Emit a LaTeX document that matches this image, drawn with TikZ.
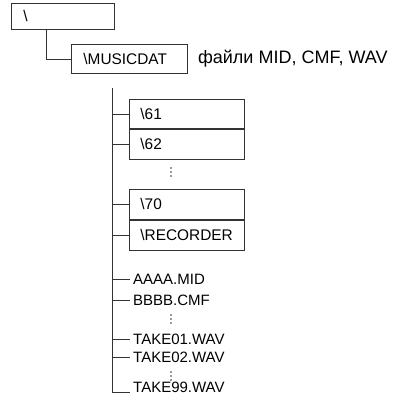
\documentclass[tikz,border=0pt]{standalone}
\usepackage{fontspec}
\setmainfont{Liberation Sans}
\usetikzlibrary{positioning}

\begin{document}
\begin{tikzpicture}[x=1pt, y=-1pt,
    dir/.style={draw=black!80, line width=0.9pt, anchor=north west, align=left,
                inner xsep=11pt, inner ysep=0pt, text width=93pt, minimum height=30pt,
                font=\fontsize{15.4}{17}\selectfont},
    file/.style={anchor=west, inner sep=3pt, font=\fontsize{15}{17}\selectfont},
    note/.style={anchor=west, inner sep=0pt, font=\fontsize{18}{20}\selectfont},
    ln/.style={draw=black!80, line width=0.9pt}
  ]
  \useasboundingbox (0,0) rectangle (399,402);

  \node[dir, inner xsep=12pt, text width=79pt, minimum height=26pt] (root) at (11,3) {\textbackslash};
  \node[dir, inner xsep=12pt, text width=92pt, minimum height=29pt] (music) at (71,44) {\textbackslash MUSICDAT};
  \node[note, right=10pt of music] (info) {файли MID, CMF, WAV};

  \node[dir, minimum height=29pt] (d61) at (129,99) {\textbackslash 61};
  \node[dir, below=0pt of d61] (d62) {\textbackslash 62};
  \coordinate (gap1) at (171,172);
  \node[dir] (d70) at (129,189) {\textbackslash 70};
  \node[dir, below=0pt of d70] (rec) {\textbackslash RECORDER};

  \node[file] (aaaa) at (130,279) {AAAA.MID};
  \node[file] (bbbb) at (130,300) {BBBB.CMF};
  \coordinate (gap2) at (171,319);
  \node[file] (t01) at (130,339) {TAKE01.WAV};
  \node[file] (t02) at (130,357) {TAKE02.WAV};
  \coordinate (gap3) at (171,376);
  \node[file] (t99) at (130,387) {TAKE99.WAV};

  % tree lines
  \coordinate (trunk) at (112,88);
  \draw[ln] ([xshift=35pt]root.south west) |- (music.west);
  \draw[ln] (trunk) |- (t99.base west);
  \foreach \n in {d61,d62,d70,rec,aaaa,bbbb,t01,t02}
    \draw[ln] (trunk |- \n.west) -- (\n.west);

  % vertical dots
  \foreach \g in {gap1,gap2,gap3}
    \foreach \dy in {-4,0,4}
      \fill[black!80] ([yshift=\dy pt]\g) circle (0.9);
\end{tikzpicture}
\end{document}
